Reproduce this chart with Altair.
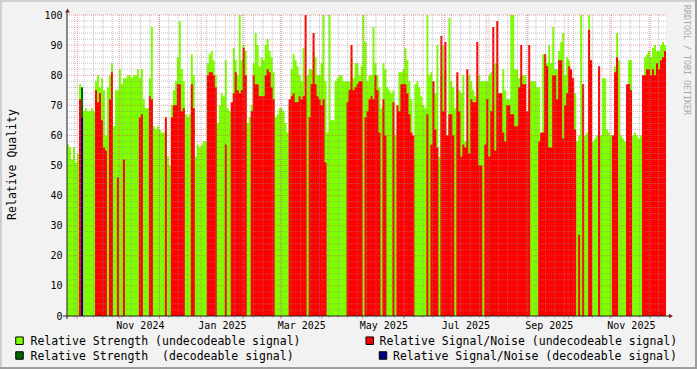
import altair as alt
import pandas as pd

# ---------------- data ----------------
STRENGTH_UNDEC = [
    57, 56, 52, 56, 51, 54, 77, 73, 68, 69,
    68, 68, 69, 68, 78, 80, 76, 79, 75, 60,
    76, 80, 84, 63, 75, 75, 82, 77, 79, 79,
    80, 80, 79, 80, 80, 82, 79, 82, 72, 69,
    69, 79, 96, 63, 62, 63, 62, 61, 61, 61,
    53, 50, 70, 75, 78, 86, 98, 82, 78, 67,
    66, 67, 87, 80, 53, 57, 56, 57, 58, 58,
    84, 87, 88, 85, 80, 64, 70, 74, 73, 85,
    69, 68, 68, 89, 85, 80, 100, 85, 90, 88,
    64, 66, 70, 84, 94, 90, 83, 86, 85, 90,
    92, 88, 86, 81, 66, 67, 69, 69, 68, 64,
    61, 70, 82, 87, 85, 83, 80, 78, 89, 72,
    80, 82, 82, 88, 86, 80, 80, 84, 100, 78,
    61, 100, 65, 65, 78, 79, 80, 80, 78, 78,
    78, 78, 86, 79, 84, 84, 80, 83, 100, 91,
    78, 80, 80, 96, 84, 80, 76, 69, 84, 82,
    76, 75, 74, 75, 60, 62, 81, 81, 82, 89,
    85, 78, 72, 52, 77, 78, 76, 73, 70, 69,
    100, 80, 81, 78, 74, 90, 53, 80, 90, 82,
    60, 99, 78, 76, 69, 80, 75, 74, 80, 58,
    58, 80, 78, 75, 73, 78, 80, 78, 78, 78,
    78, 80, 81, 70, 84, 84, 74, 74, 82, 75,
    72, 72, 100, 100, 82, 82, 79, 80, 80, 80,
    58, 75, 78, 78, 78, 76, 76, 60, 87, 87,
    84, 90, 84, 96, 82, 82, 88, 91, 94, 80,
    86, 85, 78, 77, 74, 58, 60, 100, 58, 60,
    61, 100, 85, 58, 59, 60, 60, 60, 79, 79,
    62, 61, 60, 60, 83, 94, 85, 60, 59, 58,
    70, 85, 85, 60, 61, 60, 59, 60, 78, 86,
    87, 88, 86, 89, 90, 88, 88, 90, 91, 90,
]
SNR_UNDEC = [
    0, 0, 0, 0, 0, 0, 72, 0, 0, 0,
    0, 0, 0, 0, 75, 71, 74, 65, 56, 55,
    0, 72, 81, 0, 0, 46, 0, 0, 52, 0,
    0, 0, 0, 0, 0, 0, 66, 67, 0, 0,
    0, 73, 72, 0, 0, 0, 0, 0, 0, 66,
    0, 0, 66, 70, 70, 77, 77, 68, 69, 0,
    0, 0, 77, 69, 0, 0, 0, 0, 0, 0,
    80, 81, 81, 80, 76, 0, 0, 0, 0, 57,
    0, 0, 71, 74, 81, 75, 74, 75, 89, 80,
    0, 0, 68, 80, 77, 77, 73, 73, 73, 80,
    82, 81, 76, 72, 0, 0, 0, 0, 0, 0,
    0, 72, 73, 74, 71, 71, 73, 72, 73, 100,
    0, 66, 77, 94, 77, 73, 72, 70, 72, 51,
    0, 0, 0, 0, 0, 0, 0, 0, 0, 0,
    71, 75, 90, 75, 76, 77, 78, 78, 0, 66,
    68, 72, 73, 72, 80, 75, 61, 0, 72, 60,
    0, 0, 0, 71, 0, 70, 68, 77, 77, 77,
    74, 67, 61, 60, 0, 0, 0, 0, 0, 0,
    67, 0, 57, 78, 62, 56, 0, 93, 68, 91,
    60, 67, 67, 60, 0, 81, 68, 53, 57, 56,
    82, 54, 72, 71, 71, 91, 50, 50, 0, 57,
    72, 53, 68, 96, 55, 98, 74, 74, 61, 58,
    70, 70, 67, 67, 63, 63, 76, 90, 77, 77,
    68, 90, 0, 0, 0, 0, 58, 61, 61, 87,
    83, 56, 56, 80, 80, 72, 85, 85, 59, 70,
    74, 83, 82, 79, 62, 0, 27, 0, 77, 0,
    0, 95, 85, 0, 0, 0, 83, 0, 0, 0,
    0, 0, 0, 60, 81, 86, 0, 0, 0, 0,
    77, 77, 75, 0, 0, 0, 0, 0, 80, 80,
    82, 82, 80, 82, 80, 84, 82, 85, 86, 88,
]
DEC_BINS = [7]
STRENGTH_DEC = [76]
SNR_DEC = [66]

LEGEND_LABELS = [
    "Relative Strength (undecodeable signal)",
    "Relative Signal/Noise (undecodeable signal)",
    "Relative Strength\u00a0 (decodeable signal)",
    "Relative Signal/Noise (decodeable signal)",
]
X_LABEL_DATES = ["2024-11-16 12:00", "2025-01-16 12:00", "2025-03-16 12:00",
                 "2025-05-16 12:00", "2025-07-16 12:00", "2025-09-16 12:00",
                 "2025-11-16 12:00"]
Y_TICKS = [0, 10, 20, 30, 40, 50, 60, 70, 80, 90, 100]
Y_MINOR = [v for v in range(2, 100, 2) if v % 10]
WATERMARK = "RRDTOOL / TOBI OETIKER"
Y_TITLE = "Relative Quality"

# ---------------- style ----------------
GREEN = "#7FFF00"
RED = "#FF0000"
DKGREEN = "#006400"
BLUE = "#00008B"
GRID = "rgba(143,143,143,0.55)"
MGRID = "rgba(222,79,79,0.55)"
AXIS = "#1F1F1F"
ARROW = "#801F1F"
FONT = "DejaVu Sans Mono"

T0, T1 = "2024-09-23 08:00", "2025-12-12 15:00"
dates = pd.date_range(T0, T1, periods=len(STRENGTH_UNDEC) + 1)

df = pd.DataFrame({
    "date": dates,
    "strength": STRENGTH_UNDEC + [STRENGTH_UNDEC[-1]],
    "snr": SNR_UNDEC + [SNR_UNDEC[-1]],
})
dec_rows = []
for b, s, n in zip(DEC_BINS, STRENGTH_DEC, SNR_DEC):
    dec_rows.append({"date": dates[b], "strength": s, "snr": n})
    dec_rows.append({"date": dates[b + 1], "strength": s, "snr": n})
df_dec = pd.DataFrame(dec_rows)

months = pd.DataFrame({"date": pd.date_range("2024-10-01", "2025-12-01", freq="MS")})
weeks = pd.DataFrame({"date": pd.date_range("2024-09-29", "2025-12-07", freq="W-SUN")})
ymin = pd.DataFrame({"strength": Y_MINOR})
ymaj = pd.DataFrame({"strength": Y_TICKS[1:]})
one = pd.DataFrame({"a": [0]})

def dt(s):
    t = pd.Timestamp(s)
    return alt.DateTime(year=t.year, month=t.month, date=t.day, hours=t.hour, minutes=t.minute)

XS = alt.Scale(domain=[dt(T0), dt(T1)], nice=False)
YS = alt.Scale(domain=[0, 100], nice=False)

x_axis = alt.Axis(values=[dt(s) for s in X_LABEL_DATES], format="%b %Y", ticks=False,
                  domain=False, grid=False, labelFont=FONT, labelFontSize=10,
                  labelColor="black", labelPadding=4, labelOverlap=False,
                  labelFlush=False, title=None)
y_axis = alt.Axis(values=Y_TICKS, ticks=False, domain=False, grid=False, labelFont=FONT,
                  labelFontSize=10, labelColor="black", labelPadding=5,
                  title=Y_TITLE, titleFont=FONT, titleFontSize=11.5,
                  titleFontWeight="normal", titleColor="black", titleX=-55, titleY=149,
                  titleAngle=-90, titleAlign="center", titleBaseline="middle")

X = alt.X("date:T", scale=XS, axis=x_axis, title=None)

def Y(field):
    return alt.Y(f"{field}:Q", scale=YS, stack=None, axis=y_axis, title=Y_TITLE)

def area(data, field, color):
    return alt.Chart(data).mark_area(interpolate="step-after", color=color, opacity=1).encode(
        x=X, y=Y(field))

layers = [
    area(df, "strength", GREEN),
    area(df, "snr", RED),
    area(df_dec, "strength", DKGREEN),
    area(df_dec, "snr", BLUE),
]

dash = [1, 1]
layers += [
    alt.Chart(ymin).mark_rule(color=GRID, strokeDash=dash, strokeWidth=1).encode(
        y=Y("strength"), x=alt.value(0), x2=alt.value(599)),
    alt.Chart(weeks).mark_rule(color=GRID, strokeDash=dash, strokeWidth=1).encode(
        x=X, y=alt.value(0), y2=alt.value(301)),
    alt.Chart(ymaj).mark_rule(color=MGRID, strokeDash=dash, strokeWidth=1).encode(
        y=Y("strength"), x=alt.value(0), x2=alt.value(599)),
    alt.Chart(months).mark_rule(color=MGRID, strokeDash=dash, strokeWidth=1).encode(
        x=X, y=alt.value(0), y2=alt.value(301)),
    alt.Chart(weeks).mark_rule(color=GRID, strokeWidth=1).encode(
        x=X, y=alt.value(301), y2=alt.value(303)),
    alt.Chart(months).mark_rule(color=MGRID, strokeWidth=1).encode(
        x=X, y=alt.value(301), y2=alt.value(304)),
]

# axis lines with arrows
layers += [
    alt.Chart(one).mark_rule(color=AXIS, strokeWidth=1).encode(
        x=alt.value(0), y=alt.value(304), y2=alt.value(-3)),
    alt.Chart(one).mark_rule(color=AXIS, strokeWidth=1).encode(
        y=alt.value(301), x=alt.value(-4), x2=alt.value(602)),
    alt.Chart(one).mark_point(shape="triangle-up", filled=True, size=22, color=ARROW, opacity=1).encode(
        x=alt.value(0.5), y=alt.value(-4.5)),
    alt.Chart(one).mark_point(shape="triangle-right", filled=True, size=22, color=ARROW, opacity=1).encode(
        x=alt.value(604), y=alt.value(301)),
]

# legend (rrdtool style)
legend_items = [
    (LEGEND_LABELS[0], GREEN, -47.5, 325.7, -36.5, 330),
    (LEGEND_LABELS[1], RED, 302.7, 325.7, 312.5, 330),
    (LEGEND_LABELS[2], DKGREEN, -47.5, 340.5, -36.5, 344.7),
    (LEGEND_LABELS[3], BLUE, 316.0, 340.5, 326.0, 344.7),
]
for label, col, sx, sy, tx, ty in legend_items:
    layers.append(alt.Chart(one).mark_square(size=56, filled=True, color=col, stroke="black",
                                             strokeWidth=1, opacity=1).encode(
        x=alt.value(sx), y=alt.value(sy)))
    layers.append(alt.Chart(one).mark_text(align="left", baseline="alphabetic", font=FONT,
                                           fontSize=11.5, color="black").encode(
        x=alt.value(tx), y=alt.value(ty), text=alt.value(label)))

# watermark
layers.append(alt.Chart(one).mark_text(angle=90, align="center", baseline="middle", font=FONT,
                                       fontSize=8.3, color="#A8A8A8").encode(
    x=alt.value(619), y=alt.value(45), text=alt.value(WATERMARK)))

# frame shading
for x1, x2, y1, y2, c in [(-67, 630, -15, -13, "#CFCFCF"), (-67, -65, -15, 354, "#CFCFCF"),
                          (-67, 630, 352, 354, "#9E9E9E"), (628, 630, -15, 354, "#9E9E9E")]:
    layers.append(alt.Chart(one).mark_rect(color=c, opacity=1).encode(
        x=alt.value(x1), x2=alt.value(x2), y=alt.value(y1), y2=alt.value(y2)))

chart = alt.layer(*layers).properties(
    width=599, height=301,
    padding={"left": 67, "top": 15, "right": 31, "bottom": 53},
    autosize=alt.AutoSizeParams(type="none"),
).configure(background="#F2F2F2").configure_view(fill="white", stroke=None)

chart.save("out.html", embed_options={"renderer": "svg", "actions": False})
